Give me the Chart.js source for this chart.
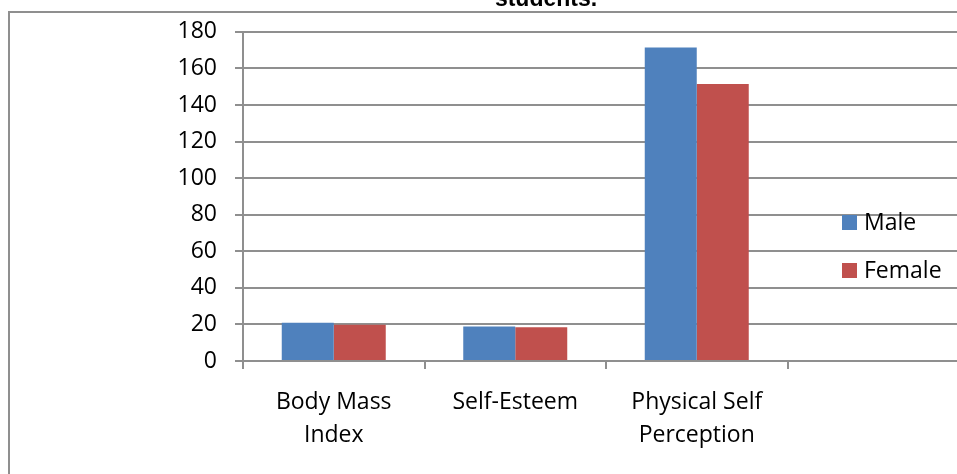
<!DOCTYPE html>
<html>
<head>
<meta charset="utf-8">
<script src="https://cdn.jsdelivr.net/npm/chart.js@4.4.0/dist/chart.umd.min.js"></script>
<style>
  html, body { margin: 0; padding: 0; background: #fff; overflow: hidden; }
  canvas { display: block; }
</style>
</head>
<body>
<canvas id="genderChart" width="980" height="474"></canvas>
<script>
  // Categories (last slot is an empty category, as in the source sheet)
  var categories = [['Body Mass', 'Index'], 'Self-Esteem', ['Physical Self', 'Perception'], ''];
  var maleValues = [20.9, 18.9, 171.4, null];
  var femaleValues = [19.8, 18.5, 151.4, null];
  var seriesNames = ['Male', 'Female'];
  var yMin = 0, yMax = 180, yStep = 20;
  var titleText = 'students.';

  var FONT = "'Open Sans', 'Noto Sans', sans-serif";
  var AXIS_GRAY = '#8f8f8f';
  var colors = { male: '#4f81bd', female: '#c0504d' };

  // Frame around the chart plus the tail of the caption above it
  var framePlugin = {
    id: 'frame',
    beforeDraw: function (chart) {
      var ctx = chart.ctx;
      ctx.save();
      ctx.strokeStyle = AXIS_GRAY;
      ctx.lineWidth = 2;
      ctx.beginPath();
      ctx.moveTo(9, chart.height + 2);
      ctx.lineTo(9, 12);
      ctx.lineTo(chart.width + 2, 12);
      ctx.stroke();

      ctx.fillStyle = '#000';
      ctx.font = "bold 23px 'Liberation Sans', Arial, sans-serif";
      ctx.textAlign = 'center';
      ctx.textBaseline = 'alphabetic';
      ctx.fillText(titleText, 546, 5.5);
      ctx.restore();
    }
  };

  // Legend drawn over the plot, right side
  var legendPlugin = {
    id: 'sideLegend',
    afterDraw: function (chart) {
      var ctx = chart.ctx;
      ctx.save();
      ctx.font = '23px ' + FONT;
      ctx.textBaseline = 'middle';
      ctx.textAlign = 'left';
      chart.data.datasets.forEach(function (ds, i) {
        var y = 222.5 + i * 48;
        ctx.fillStyle = ds.backgroundColor;
        ctx.fillRect(842, y - 7.5, 15, 15);
        ctx.fillStyle = '#000';
        ctx.fillText(ds.label, 864, y + 1);
      });
      ctx.restore();
    }
  };

  var ctx = document.getElementById('genderChart').getContext('2d');
  new Chart(ctx, {
    type: 'bar',
    data: {
      labels: categories,
      datasets: [
        {
          label: seriesNames[0],
          data: maleValues,
          backgroundColor: colors.male,
          borderWidth: 0,
          categoryPercentage: 0.573,
          barPercentage: 1
        },
        {
          label: seriesNames[1],
          data: femaleValues,
          backgroundColor: colors.female,
          borderWidth: 0,
          categoryPercentage: 0.573,
          barPercentage: 1
        }
      ]
    },
    options: {
      responsive: false,
      animation: false,
      layout: { padding: { top: 28, right: 11, left: 0, bottom: 0 } },
      plugins: {
        legend: { display: false },
        tooltip: { enabled: false }
      },
      scales: {
        x: {
          grid: {
            offset: true,
            drawOnChartArea: false,
            tickLength: 8,
            color: AXIS_GRAY,
            lineWidth: 2
          },
          border: { color: AXIS_GRAY, width: 2 },
          ticks: {
            color: '#000',
            font: { family: FONT, size: 23, lineHeight: 1.43 },
            padding: 17,
            maxRotation: 0,
            autoSkip: false
          },
          afterFit: function (scale) { scale.height = 113; }
        },
        y: {
          min: yMin,
          max: yMax,
          grid: { color: AXIS_GRAY, lineWidth: 2, tickLength: 8 },
          border: { color: AXIS_GRAY, width: 2 },
          ticks: {
            stepSize: yStep,
            color: '#000',
            font: { family: FONT, size: 23 },
            padding: 18
          },
          afterFit: function (scale) { scale.width = 243; }
        }
      }
    },
    plugins: [framePlugin, legendPlugin]
  });
</script>
</body>
</html>
